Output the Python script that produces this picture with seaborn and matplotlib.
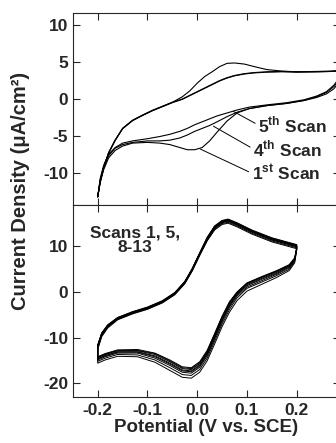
import numpy as np
import pandas as pd
import matplotlib
matplotlib.use("Agg")
import matplotlib.pyplot as plt
import seaborn as sns

# ---------------- data: top panel (scans 1, 4, 5) ----------------
top_fwd_x = [-0.200, -0.195, -0.188, -0.178, -0.165, -0.150, -0.130, -0.100, -0.075,
             -0.055, -0.035, -0.020, -0.005, 0.010, 0.025, 0.040, 0.060, 0.080, 0.105,
             0.140, 0.180, 0.215, 0.240, 0.260, 0.275, 0.285, 0.295]
top_rev_x = [0.295, 0.270, 0.240, 0.200, 0.170, 0.140, 0.115, 0.095, 0.075, 0.060,
             0.045, 0.030, 0.015, 0.000, -0.015, -0.030, -0.050, -0.070, -0.090,
             -0.110, -0.130, -0.150, -0.165, -0.178, -0.188, -0.195, -0.200]

scan1_fwd = [-13.3, -11.4, -9.6, -8.0, -7.0, -6.4, -6.0, -5.9, -6.0, -6.2, -6.6, -6.9,
             -6.9, -6.6, -5.7, -4.5, -3.0, -1.9, -1.3, -0.9, -0.6, -0.2, 0.3, 0.9, 1.7, 2.6, 3.9]
scan4_fwd = [-13.3, -11.0, -9.2, -7.7, -6.7, -6.2, -5.9, -5.7, -5.7, -5.6, -5.3, -4.9,
             -4.4, -4.0, -3.6, -3.1, -2.4, -1.8, -1.3, -0.9, -0.6, -0.2, 0.2, 0.7, 1.4, 2.3, 3.9]
scan5_fwd = [-13.3, -10.8, -9.0, -7.5, -6.6, -6.0, -5.7, -5.4, -5.1, -4.8, -4.4, -4.0,
             -3.5, -3.1, -2.7, -2.3, -1.9, -1.5, -1.1, -0.8, -0.5, -0.1, 0.4, 1.0, 1.9, 2.8, 3.9]

scan1_rev = [3.9, 3.8, 3.75, 3.7, 3.8, 4.0, 4.4, 4.75, 4.9, 4.85, 4.4, 3.7, 3.05, 2.15,
             1.1, 0.3, -0.45, -1.0, -1.55, -2.2, -2.9, -4.0, -5.6, -7.3, -9.3, -11.2, -13.3]
scan4_rev = [3.9, 3.75, 3.7, 3.65, 3.7, 3.65, 3.55, 3.4, 3.15, 2.85, 2.45, 1.95, 1.45,
             0.95, 0.45, -0.05, -0.5, -1.05, -1.6, -2.25, -2.95, -4.05, -5.65, -7.35, -9.35, -11.2, -13.3]
scan5_rev = [3.9, 3.75, 3.7, 3.7, 3.75, 3.7, 3.6, 3.45, 3.2, 2.9, 2.5, 2.0, 1.5,
             1.0, 0.5, 0.0, -0.45, -1.0, -1.55, -2.2, -2.9, -4.0, -5.6, -7.3, -9.3, -11.2, -13.3]

top_scans = {"1st": (scan1_fwd, scan1_rev), "4th": (scan4_fwd, scan4_rev),
             "5th": (scan5_fwd, scan5_rev)}

# ---------------- data: bottom panel (scans 1, 5, 8-13) ----------------
bot_up_x = [-0.200, -0.192, -0.180, -0.160, -0.130, -0.100, -0.070, -0.045, -0.025,
            -0.010, 0.005, 0.020, 0.035, 0.050, 0.062, 0.080, 0.110, 0.150, 0.200]
bot_dn_x = [0.200, 0.196, 0.185, 0.160, 0.130, 0.100, 0.080, 0.065, 0.050, 0.035,
            0.020, 0.005, -0.012, -0.030, -0.055, -0.085, -0.120, -0.160, -0.185, -0.200]

bot_up = {
    "1":  [-12.6, -9.8, -7.9, -6.1, -4.8, -3.8, -2.4, -0.6, 1.8, 4.6, 8.0, 11.2, 13.6, 14.8, 15.1, 14.3, 12.7, 11.0, 9.5],
    "5":  [-12.4, -9.6, -7.7, -6.0, -4.7, -3.7, -2.3, -0.5, 1.9, 4.7, 8.1, 11.3, 13.8, 15.0, 15.3, 14.5, 12.9, 11.2, 9.7],
    "8":  [-12.0, -9.4, -7.6, -5.9, -4.6, -3.6, -2.2, -0.4, 2.0, 4.8, 8.2, 11.5, 14.0, 15.2, 15.5, 14.7, 13.1, 11.4, 9.9],
    "9":  [-11.9, -9.3, -7.5, -5.8, -4.5, -3.5, -2.1, -0.3, 2.1, 4.9, 8.3, 11.6, 14.1, 15.3, 15.6, 14.8, 13.2, 11.5, 10.0],
    "10": [-11.8, -9.2, -7.4, -5.8, -4.5, -3.5, -2.1, -0.3, 2.1, 5.0, 8.4, 11.7, 14.2, 15.4, 15.7, 14.9, 13.3, 11.6, 10.1],
    "11": [-11.8, -9.1, -7.3, -5.7, -4.4, -3.4, -2.0, -0.2, 2.2, 5.0, 8.5, 11.8, 14.3, 15.5, 15.8, 15.0, 13.4, 11.7, 10.2],
    "12": [-11.7, -9.0, -7.3, -5.6, -4.4, -3.4, -2.0, -0.2, 2.3, 5.1, 8.5, 11.9, 14.4, 15.6, 15.9, 15.1, 13.5, 11.8, 10.3],
    "13": [-11.6, -9.0, -7.2, -5.6, -4.3, -3.3, -1.9, -0.1, 2.3, 5.2, 8.6, 12.0, 14.5, 15.7, 16.0, 15.2, 13.6, 11.9, 10.4],
}
bot_dn = {
    "1":  [9.2, 6.4, 4.7, 3.2, 1.7, 0.2, -1.9, -4.4, -7.6, -11.4, -15.1, -17.6, -18.9, -18.7, -17.2, -15.4, -14.2, -14.1, -14.9, -15.6],
    "5":  [9.3, 6.7, 5.0, 3.6, 2.2, 0.8, -1.3, -3.8, -7.0, -10.8, -14.5, -17.0, -18.3, -18.1, -16.6, -14.9, -13.8, -13.7, -14.5, -15.2],
    "8":  [9.4, 6.9, 5.3, 3.9, 2.5, 1.1, -0.9, -3.3, -6.5, -10.3, -14.0, -16.5, -17.8, -17.6, -16.1, -14.5, -13.4, -13.4, -14.2, -14.9],
    "9":  [9.5, 7.1, 5.5, 4.1, 2.8, 1.4, -0.6, -3.0, -6.2, -10.0, -13.7, -16.2, -17.5, -17.3, -15.8, -14.2, -13.2, -13.2, -14.0, -14.7],
    "10": [9.5, 7.2, 5.7, 4.3, 3.0, 1.6, -0.4, -2.8, -6.0, -9.8, -13.5, -16.0, -17.3, -17.1, -15.6, -14.0, -13.1, -13.1, -13.9, -14.6],
    "11": [9.6, 7.3, 5.8, 4.5, 3.2, 1.8, -0.2, -2.5, -5.7, -9.5, -13.2, -15.7, -17.0, -16.8, -15.3, -13.7, -12.9, -12.9, -13.7, -14.4],
    "12": [9.6, 7.4, 5.9, 4.6, 3.3, 1.9, -0.1, -2.3, -5.5, -9.3, -13.0, -15.5, -16.8, -16.6, -15.1, -13.5, -12.8, -12.8, -13.6, -14.3],
    "13": [9.7, 7.5, 6.0, 4.7, 3.4, 2.0, 0.0, -2.1, -5.3, -9.1, -12.8, -15.3, -16.6, -16.4, -14.9, -13.4, -12.6, -12.7, -13.5, -14.2],
}

x_ticks = [-0.2, -0.1, 0.0, 0.1, 0.2]
x_ticklabels = ["-0.2", "-0.1", "0.0", "0.1", "0.2"]
top_yticks = [-10, -5, 0, 5, 10]
bot_yticks = [-20, -10, 0, 10]

# ---------------- build tables ----------------
rows = []
for name, (fwd, rev) in top_scans.items():
    xs = top_fwd_x + top_rev_x
    ys = fwd + rev
    for i, (xv, yv) in enumerate(zip(xs, ys)):
        rows.append({"scan": name, "i": i, "E": xv, "I": yv})
df_top = pd.DataFrame(rows)

rows = []
for name in bot_up:
    xs = bot_up_x + bot_dn_x + [bot_up_x[0]]
    ys = bot_up[name] + bot_dn[name] + [bot_up[name][0]]
    for i, (xv, yv) in enumerate(zip(xs, ys)):
        rows.append({"scan": name, "i": i, "E": xv, "I": yv})
df_bot = pd.DataFrame(rows)

# ---------------- style ----------------
sns.set_style("ticks")
plt.rcParams["font.family"] = ["Liberation Sans", "DejaVu Sans"]
plt.rcParams["font.weight"] = "bold"
plt.rcParams["mathtext.fontset"] = "custom"
plt.rcParams["mathtext.rm"] = "Liberation Sans:bold"
plt.rcParams["mathtext.bf"] = "Liberation Sans:bold"
plt.rcParams["axes.linewidth"] = 0.8

fig = plt.figure(figsize=(3.36, 4.43), dpi=100)
left, width = 0.2158, 0.7961
ax1 = fig.add_axes([left, 0.5372, width, 0.4335])
ax2 = fig.add_axes([left, 0.1038, width, 0.4334])

xlim = (-0.2507, 0.2871)

sns.lineplot(data=df_top, x="E", y="I", units="scan", estimator=None, sort=False,
             color="black", lw=0.8, ax=ax1, legend=False)
sns.lineplot(data=df_bot, x="E", y="I", units="scan", estimator=None, sort=False,
             color="black", lw=0.7, ax=ax2, legend=False)

for ax in (ax1, ax2):
    ax.set_xlim(*xlim)
    ax.set_xticks(x_ticks)
    ax.tick_params(direction="in", top=True, right=True, length=5, width=0.8,
                   labelsize=12.5, pad=3)
    ax.set_xlabel("")
    ax.set_ylabel("")

ax1.set_ylim(-14.42, 11.70)
ax1.set_yticks(top_yticks)
ax1.set_yticklabels([str(v) for v in top_yticks], fontweight="bold")
ax1.tick_params(labelbottom=False)

ax2.set_ylim(-23.03, 19.08)
ax2.set_yticks(bot_yticks)
ax2.set_yticklabels([str(v) for v in bot_yticks], fontweight="bold")
ax2.set_xticklabels(x_ticklabels, fontweight="bold")
ax2.tick_params(axis="x", pad=4)
ax2.set_xlabel("Potential (V vs. SCE)", fontsize=13.5, fontweight="bold", labelpad=1)

fig.text(0.06, 0.568, "Current Density (μA/cm²)", rotation=90, ha="center",
         va="center", fontsize=14.5, fontweight="bold")

# annotations
ann = [("5$^{\\mathbf{th}}$ Scan", (0.073, -1.7), (0.1232, -3.55)),
       ("4$^{\\mathbf{th}}$ Scan", (0.0326, -3.7), (0.113, -6.8)),
       ("1$^{\\mathbf{st}}$ Scan", (0.006, -6.8), (0.110, -10.1))]
for txt, xy, xyt in ann:
    ax1.annotate(txt, xy=xy, xytext=xyt, ha="left", va="center", fontsize=12.5,
                 fontweight="bold",
                 arrowprops=dict(arrowstyle="-", lw=0.7, color="black",
                                 relpos=(0.0, 0.5), shrinkA=0, shrinkB=0))

ax2.text(-0.125, 11.4, "Scans 1, 5,\n8-13", ha="center", va="center",
         fontsize=12.5, fontweight="bold", linespacing=1.0)

fig.savefig("out.png", dpi=100)
